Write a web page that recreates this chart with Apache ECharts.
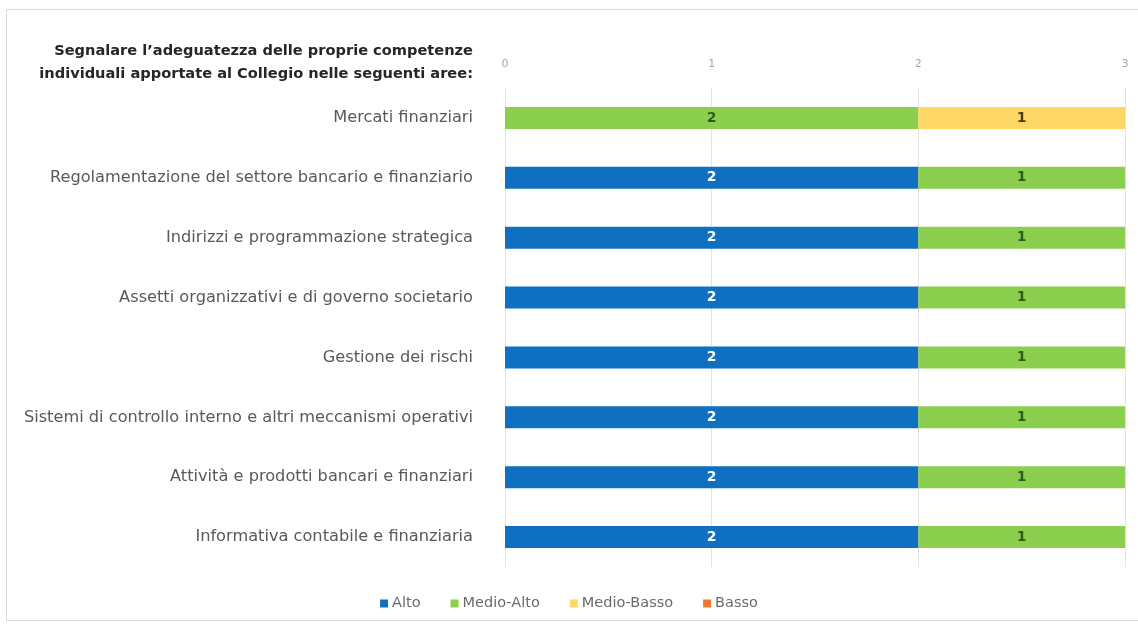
<!DOCTYPE html>
<html>
<head>
<meta charset="utf-8">
<script src="https://cdn.jsdelivr.net/npm/echarts@6/dist/echarts.min.js"></script>
<style>
  html, body { margin: 0; padding: 0; background: #fff; }
  #chart { width: 1138px; height: 626px; }
</style>
</head>
<body>
<div id="chart"></div>
<script>
// Competence areas, top to bottom
const categories = [
  'Mercati finanziari',
  'Regolamentazione del settore bancario e finanziario',
  'Indirizzi e programmazione strategica',
  'Assetti organizzativi e di governo societario',
  'Gestione dei rischi',
  'Sistemi di controllo interno e altri meccanismi operativi',
  'Attività e prodotti bancari e finanziari',
  'Informativa contabile e finanziaria'
];

// Number of answers per rating level
const alto       = [0, 2, 2, 2, 2, 2, 2, 2];
const medioAlto  = [2, 1, 1, 1, 1, 1, 1, 1];
const medioBasso = [1, 0, 0, 0, 0, 0, 0, 0];
const basso      = [0, 0, 0, 0, 0, 0, 0, 0];

const xTicks = [0, 1, 2, 3];

const titleText = 'Segnalare l\u2019adeguatezza delle proprie competenze\nindividuali apportate al Collegio nelle seguenti aree:';

const chart = echarts.init(document.getElementById('chart'), null, { renderer: 'canvas' });

function barSeries(name, data, color, labelColor) {
  return {
    name: name,
    type: 'bar',
    stack: 'total',
    data: data,
    barWidth: 22,
    itemStyle: { color: color },
    label: {
      show: true,
      position: 'inside',
      color: labelColor,
      fontFamily: 'DejaVu Sans',
      fontWeight: 'bold',
      fontSize: 14,
      formatter: p => (p.value ? String(p.value) : '')
    }
  };
}

chart.setOption({
  backgroundColor: '#ffffff',
  animation: false,
  graphic: [
    {
      type: 'rect',
      shape: { x: 6.5, y: 9.5, width: 1200, height: 611 },
      style: { fill: 'none', stroke: '#d9d9d9', lineWidth: 1 },
      silent: true
    },
    {
      type: 'text',
      x: 473,
      y: 40,
      style: {
        text: titleText,
        textAlign: 'right',
        textVerticalAlign: 'top',
        fontFamily: 'DejaVu Sans',
        fontWeight: 'bold',
        fontSize: 14.6,
        lineHeight: 23,
        fill: '#262626'
      }
    }
  ],
  legend: {
    bottom: 10,
    left: 'center',
    itemWidth: 8,
    itemHeight: 8,
    itemGap: 30,
    icon: 'rect',
    textStyle: { color: '#6b6b6b', fontFamily: 'DejaVu Sans', fontSize: 14.5, padding: [0, 0, 0, -1] },
    data: ['Alto', 'Medio-Alto', 'Medio-Basso', 'Basso']
  },
  grid: { left: 505, right: 13, top: 88, bottom: 59, containLabel: false },
  xAxis: {
    type: 'value',
    position: 'top',
    min: xTicks[0],
    max: xTicks[xTicks.length - 1],
    interval: 1,
    axisLine: { show: false },
    axisTick: { show: false },
    axisLabel: { color: '#a6a6a6', fontFamily: 'DejaVu Sans', fontSize: 11, margin: 18 },
    splitLine: { show: true, lineStyle: { color: '#e3e3e3', width: 1 } }
  },
  yAxis: {
    type: 'category',
    inverse: true,
    data: categories,
    axisLine: { show: false },
    axisTick: { show: false },
    axisLabel: { color: '#595959', fontFamily: 'DejaVu Sans', fontSize: 16.2, margin: 32 }
  },
  series: [
    barSeries('Alto', alto, '#0f6fc1', '#ffffff'),
    barSeries('Medio-Alto', medioAlto, '#8ccf4f', '#2f5a1a'),
    barSeries('Medio-Basso', medioBasso, '#ffd766', '#4d3b10'),
    barSeries('Basso', basso, '#e97a38', '#ffffff')
  ]
});
</script>
</body>
</html>
